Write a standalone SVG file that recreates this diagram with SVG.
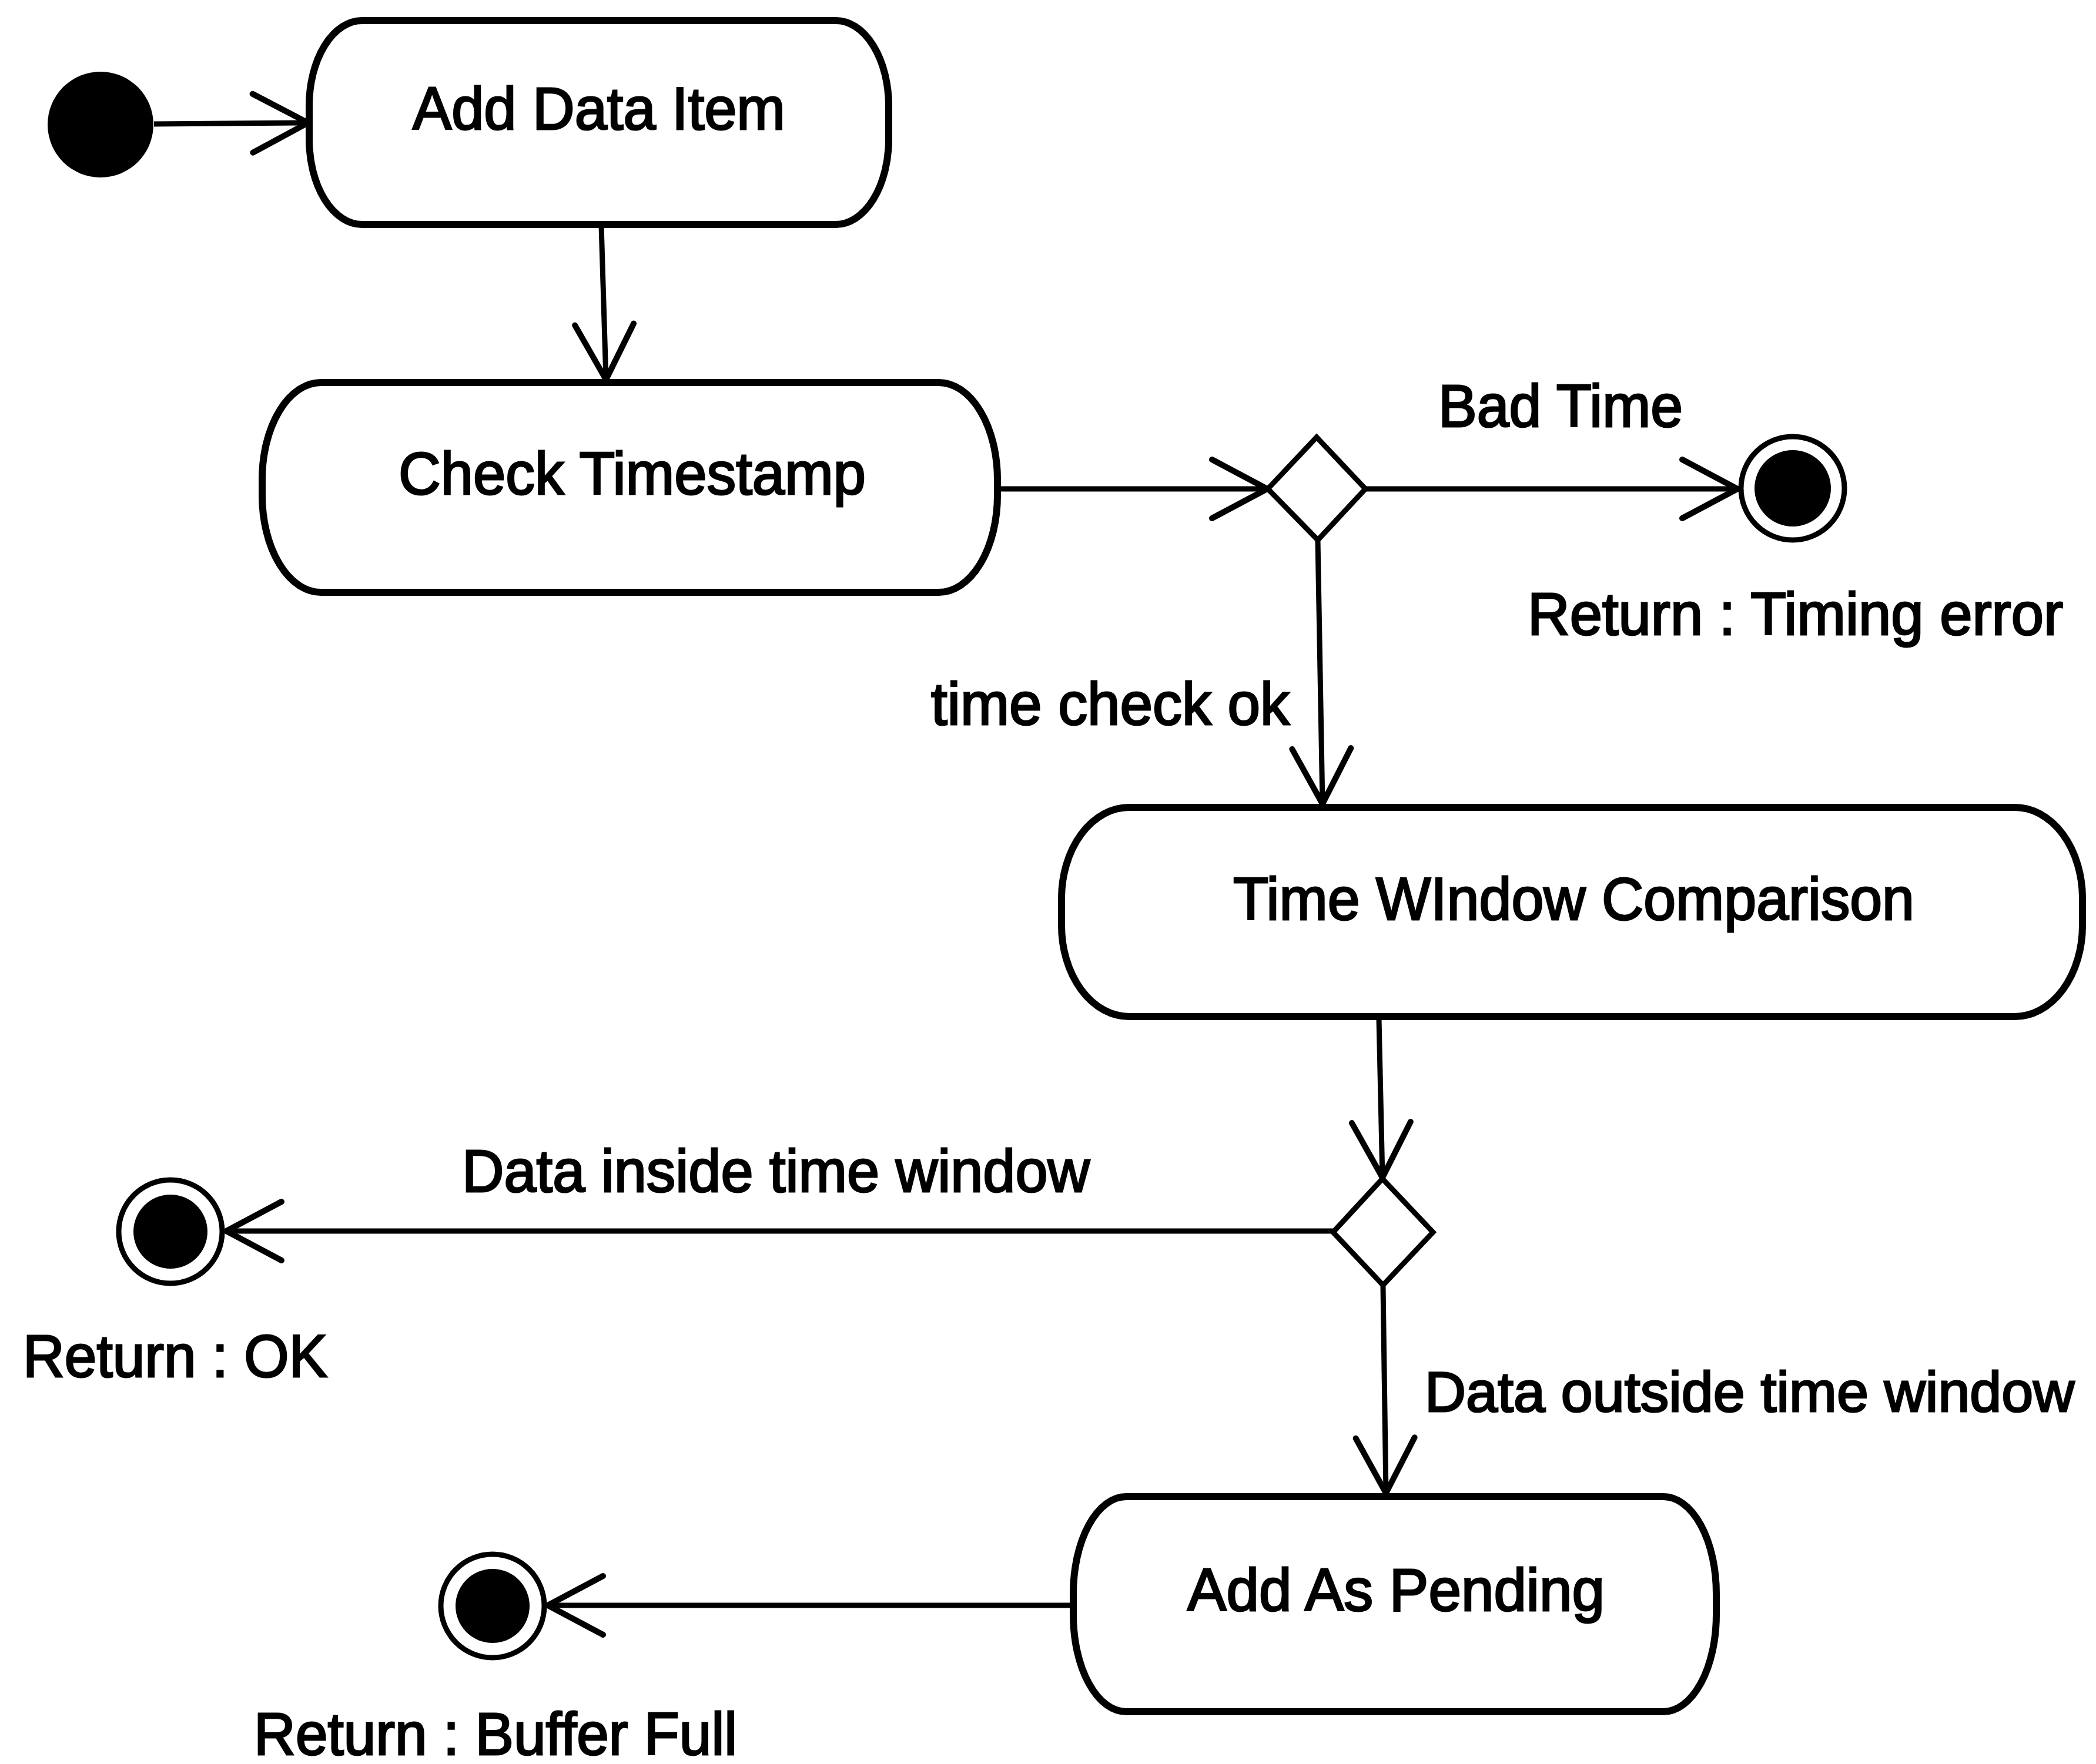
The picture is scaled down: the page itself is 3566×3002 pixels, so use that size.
<svg xmlns="http://www.w3.org/2000/svg" width="3566" height="3002" viewBox="0 0 3566 3002">
<defs>
<style>
.act{fill:#fff;stroke:#000;stroke-width:12}
.dec{fill:#fff;stroke:#000;stroke-width:9;stroke-linejoin:miter}
.ring{fill:#fff;stroke:#000;stroke-width:9}
.dot{fill:#000}
.conn{fill:none;stroke:#000;stroke-width:9}
text{font-family:"Liberation Sans",Arial,sans-serif;font-size:102px;fill:#000;stroke:#000;stroke-width:3}
</style>
<marker id="open" markerUnits="userSpaceOnUse" markerWidth="120" markerHeight="120" viewBox="-100 -60 110 120" refX="0" refY="0" orient="auto">
<path d="M-94,-50 L0,0 L-94,50" fill="none" stroke="#000" stroke-width="10" stroke-linecap="round" stroke-linejoin="miter"/>
</marker>
</defs>
<rect width="3566" height="3002" fill="#fff"/>
<g id="connectors">
<line class="conn" x1="262" y1="211" x2="524" y2="209" marker-end="url(#open)"/>
<line class="conn" x1="1023" y1="384" x2="1031" y2="646" marker-end="url(#open)"/>
<line class="conn" x1="1699" y1="832" x2="2156" y2="832" marker-end="url(#open)"/>
<line class="conn" x1="2323" y1="832" x2="2956" y2="832" marker-end="url(#open)"/>
<line class="conn" x1="2242" y1="920" x2="2250" y2="1368" marker-end="url(#open)"/>
<line class="conn" x1="2346" y1="1734" x2="2352" y2="2004" marker-end="url(#open)"/>
<line class="conn" x1="2268" y1="2095" x2="385" y2="2095" marker-end="url(#open)"/>
<line class="conn" x1="2353" y1="2189" x2="2358" y2="2541" marker-end="url(#open)"/>
<line class="conn" x1="1823" y1="2732" x2="932" y2="2732" marker-end="url(#open)"/>
<text x="2447" y="726" textLength="416" lengthAdjust="spacingAndGlyphs">Bad Time</text>
<text x="1584" y="1233" textLength="610" lengthAdjust="spacingAndGlyphs">time check ok</text>
<text x="786" y="2028" textLength="1068" lengthAdjust="spacingAndGlyphs">Data inside time window</text>
<text x="2424" y="2402" style="font-size:97px">Data outside time window</text>
</g>
<g id="start">
<circle class="dot" cx="171" cy="212" r="90"/>
</g>
<g id="add-data-item">
<rect class="act" x="526" y="35" width="986" height="347" rx="90" ry="145"/>
<text x="702" y="220" textLength="634" lengthAdjust="spacingAndGlyphs">Add Data Item</text>
</g>
<g id="check-timestamp">
<rect class="act" x="446" y="651" width="1251" height="357" rx="100" ry="165"/>
<text x="678" y="841" textLength="795" lengthAdjust="spacingAndGlyphs">Check Timestamp</text>
</g>
<g id="decision-time">
<polygon class="dec" points="2157,832 2240,744 2323,832 2242,919"/>
</g>
<g id="end-timing-error">
<circle class="ring" cx="3050" cy="831" r="88"/>
<circle class="dot" cx="3050" cy="831" r="65"/>
<text x="2599" y="1080" textLength="911" lengthAdjust="spacingAndGlyphs">Return : Timing error</text>
</g>
<g id="time-window-comparison">
<rect class="act" x="1806" y="1374" width="1737" height="356" rx="115" ry="155"/>
<text x="2098" y="1565" textLength="1159" lengthAdjust="spacingAndGlyphs">Time WIndow Comparison</text>
</g>
<g id="decision-window">
<polygon class="dec" points="2268,2097 2352,2006 2438,2097 2353,2187"/>
</g>
<g id="end-ok">
<circle class="ring" cx="290" cy="2096" r="88"/>
<circle class="dot" cx="290" cy="2096" r="63"/>
<text x="39" y="2343" textLength="518" lengthAdjust="spacingAndGlyphs">Return : OK</text>
</g>
<g id="add-as-pending">
<rect class="act" x="1826" y="2547" width="1094" height="366" rx="90" ry="165"/>
<text x="2020" y="2741" textLength="710" lengthAdjust="spacingAndGlyphs">Add As Pending</text>
</g>
<g id="end-buffer-full">
<circle class="ring" cx="838" cy="2733" r="88"/>
<circle class="dot" cx="838" cy="2733" r="63"/>
<text x="432" y="2986" textLength="822" lengthAdjust="spacingAndGlyphs">Return : Buffer Full</text>
</g>
</svg>
